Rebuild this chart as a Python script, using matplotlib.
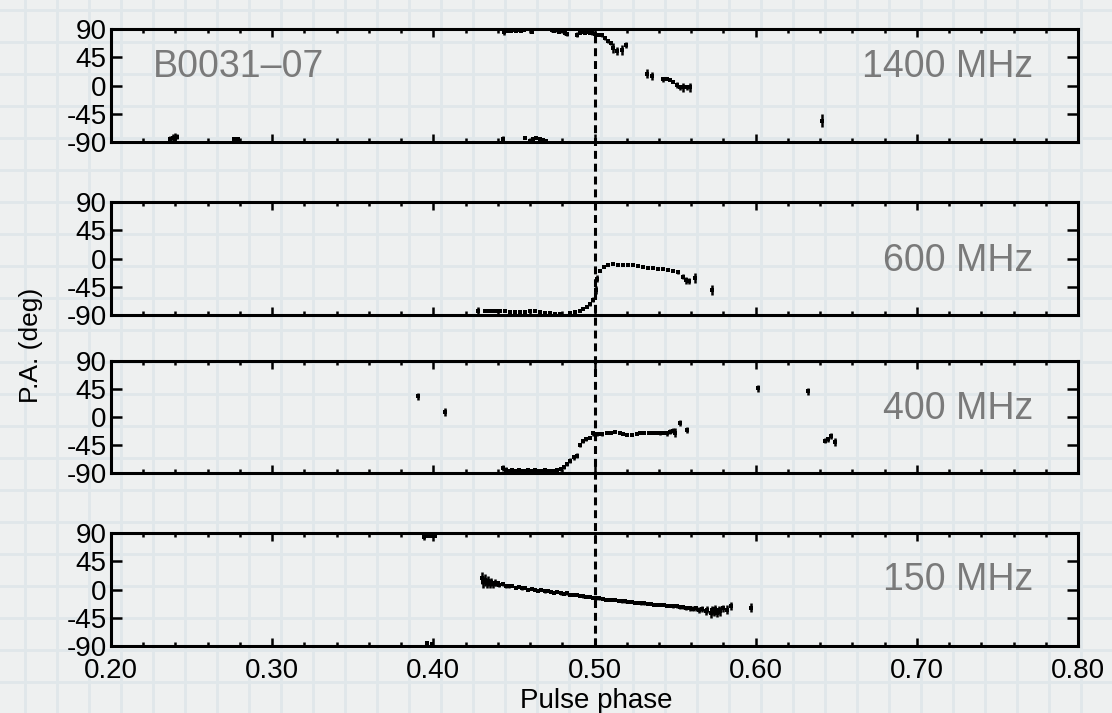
import numpy as np
import matplotlib
matplotlib.use("Agg")
import matplotlib.pyplot as plt

plt.rcParams['font.family'] = ['Liberation Sans', 'DejaVu Sans']
plt.rcParams['axes.unicode_minus'] = False

# ---------------- data ----------------
panel_labels = ["1400 MHz", "600 MHz", "400 MHz", "150 MHz"]
pulsar_name = "B0031\u201307"
xtick_vals = [0.20, 0.30, 0.40, 0.50, 0.60, 0.70, 0.80]
xtick_labels = ["0.20", "0.30", "0.40", "0.50", "0.60", "0.70", "0.80"]
ytick_vals = [-90, -45, 0, 45, 90]
ytick_labels = ["-90", "-45", "0", "45", "90"]
ref_phase = 0.50

# 1400 MHz
x1400 = [0.2366, 0.2383, 0.2397, 0.2411, 0.2765, 0.2790,
         0.4430, 0.4570, 0.4600, 0.4620, 0.4640, 0.4660, 0.4680, 0.4700,
         0.4438, 0.4455, 0.4470, 0.4485, 0.4500, 0.4515, 0.4530, 0.4545, 0.4560, 0.4610,
         0.4734, 0.4750, 0.4765, 0.4780, 0.4800, 0.4815, 0.4827,
         0.4890, 0.4910, 0.4925, 0.4940, 0.4955, 0.4970, 0.4985,
         0.5000, 0.5020, 0.5044, 0.5065, 0.5086, 0.5100, 0.5117, 0.5138, 0.5169, 0.5195,
         0.5324, 0.5354,
         0.5427, 0.5448, 0.5468, 0.5489, 0.5510, 0.5530, 0.5551, 0.5572, 0.5593,
         0.6410]
y1400 = [-85, -84, -83, -82, -86, -86,
         -85, -83, -88, -86, -84, -85, -87, -88,
         85, 87, 88, 87, 88, 87, 88, 87, 88, 86,
         88, 87, 88, 86, 87, 84, 82,
         81, 84, 85, 84, 85, 84, 83,
         82, 81, 80, 76, 71, 67, 60, 55, 56, 64,
         19, 15,
         10, 11, 9, 6, 1, -3, -3, -3, -3,
         -56]
e1400 = [4, 6, 7, 4, 4, 4,
         5, 1.5, 2, 2, 2, 2, 2, 1.5,
         4, 2, 1.5, 2, 1.5, 2, 1.5, 2, 1.5, 3,
         3, 2, 2, 3, 2, 3, 3,
         4, 2, 1.5, 2, 1.5, 2, 2,
         2, 2, 2, 3, 3, 3, 8, 7, 8, 5,
         7, 6,
         4, 2, 2, 2, 5, 4, 7, 4, 7,
         10]

# 600 MHz
x600 = [0.4280, 0.4321, 0.4335, 0.4352, 0.4372, 0.4393, 0.4414, 0.4444, 0.4476,
        0.4507, 0.4538, 0.4569, 0.4600, 0.4631, 0.4662, 0.4693, 0.4724, 0.4755,
        0.4786, 0.4848, 0.4879, 0.4910, 0.4931, 0.4952, 0.4972, 0.4993, 0.5010,
        0.5018, 0.5034, 0.5059, 0.5086, 0.5117, 0.5148, 0.5179, 0.5210, 0.5241,
        0.5272, 0.5303, 0.5334, 0.5365, 0.5396, 0.5427, 0.5458, 0.5489, 0.5520,
        0.5547, 0.5568, 0.5588, 0.5624, 0.5727]
y600 = [-84, -84, -84, -83, -83, -84, -83, -84, -85,
        -85, -86, -85, -84, -84, -86, -87, -87, -88,
        -88, -87, -86, -83, -80, -77, -73, -66, -50,
        -32, -20, -14, -10, -9, -11, -11, -11, -11,
        -12, -14, -15, -15, -16, -17, -18, -20, -22,
        -29, -35, -36, -31, -50]
e600 = [6, 2, 2, 2, 2, 2, 2, 1.5, 1.5,
        1.5, 1.5, 1.5, 1.5, 1.5, 1.5, 1.5, 1.5, 1.5,
        1.5, 1.5, 1.5, 1.5, 1.5, 1.5, 2, 4, 6,
        6, 2, 1.5, 1.5, 1.5, 1.5, 1.5, 1.5, 1.5,
        1.5, 1.5, 1.5, 1.5, 1.5, 1.5, 1.5, 2, 2,
        4, 6, 5, 8, 8]

# 400 MHz
x400 = [0.3905, 0.4070,
        0.4430, 0.4450, 0.4470, 0.4490, 0.4510, 0.4530, 0.4550, 0.4570, 0.4590,
        0.4610, 0.4630, 0.4650, 0.4670, 0.4690, 0.4710, 0.4730, 0.4750, 0.4770,
        0.4790, 0.4810, 0.4830, 0.4850, 0.4870, 0.4889, 0.4910, 0.4930, 0.4950,
        0.4970, 0.4993, 0.5013, 0.5030, 0.5044, 0.5076, 0.5100, 0.5130, 0.5158,
        0.5179, 0.5200, 0.5230, 0.5262, 0.5282, 0.5310, 0.5340, 0.5365, 0.5386,
        0.5406, 0.5430, 0.5450, 0.5470, 0.5489, 0.5500, 0.5530, 0.5576,
        0.6015, 0.6325, 0.6430, 0.6450, 0.6470, 0.6490]
y400 = [33, 8,
        -82, -85, -86, -85, -86, -85, -86, -86, -85,
        -86, -85, -86, -86, -85, -87, -86, -86, -85,
        -84, -80, -76, -70, -65, -62, -45, -38, -36,
        -33, -26, -27, -27, -28, -25, -25, -24, -25,
        -27, -29, -29, -28, -25, -25, -26, -25, -25,
        -26, -25, -26, -24, -22, -25, -10, -21,
        46, 41, -38, -36, -30, -40]
e400 = [6, 7,
        5, 4, 3, 2, 2, 2, 2, 2, 2,
        2, 2, 2, 2, 2, 2, 2, 2, 2,
        3, 3, 3, 4, 4, 4, 4, 3, 3,
        3, 4, 3, 2, 2, 1.5, 1.5, 1.5, 1.5,
        1.5, 1.5, 1.5, 1.5, 1.5, 1.5, 1.5, 1.5, 2,
        3, 3, 4, 4, 4, 7, 5, 5,
        6, 6, 4, 4, 5, 6]

# 150 MHz
x150 = [0.3940, 0.3970, 0.3990, 0.4010, 0.3960, 0.3990,
        0.4300, 0.4310, 0.4320, 0.4330, 0.4340, 0.4350, 0.4360, 0.4370, 0.4380,
        0.4390, 0.4400, 0.4410, 0.4430, 0.4450, 0.4470, 0.4490, 0.4510, 0.4530,
        0.4550, 0.4570, 0.4590, 0.4610, 0.4630, 0.4650, 0.4670, 0.4690, 0.4710,
        0.4730, 0.4750, 0.4770, 0.4790, 0.4810, 0.4830, 0.4850, 0.4870, 0.4890,
        0.4910, 0.4930, 0.4950, 0.4970, 0.4990, 0.5010, 0.5030, 0.5050, 0.5070,
        0.5090, 0.5110, 0.5130, 0.5150, 0.5170, 0.5190, 0.5210, 0.5230, 0.5250,
        0.5270, 0.5290, 0.5310, 0.5330, 0.5350, 0.5370, 0.5390, 0.5410, 0.5430,
        0.5450, 0.5470, 0.5490, 0.5510, 0.5530, 0.5550, 0.5570, 0.5590, 0.5610,
        0.5630, 0.5650, 0.5670, 0.5690, 0.5700, 0.5720, 0.5730, 0.5740, 0.5750,
        0.5760, 0.5770, 0.5780, 0.5800, 0.5820, 0.5850, 0.5970]
y150 = [84, 86, 86, 86, -86, -87,
        18, 12, 15, 10, 14, 9, 12, 8, 11,
        9, 10, 7, 8, 6, 5, 6, 3, 4,
        2, 3, 0, 1, 0, -2, -1, -3, -2,
        -4, -5, -4, -6, -7, -6, -8, -9, -9,
        -10, -11, -12, -12, -13, -14, -14, -15, -16,
        -16, -17, -17, -18, -19, -19, -20, -20, -21,
        -21, -22, -22, -23, -23, -24, -24, -25, -25,
        -26, -26, -27, -27, -28, -28, -29, -30, -31,
        -30, -33, -31, -35, -32, -38, -33, -36, -31,
        -37, -33, -35, -30, -32, -26, -29]
e150 = [5, 3, 3, 3, 3, 2,
        10, 9, 9, 8, 8, 7, 6, 6, 5,
        4, 4, 3, 3, 3, 2, 2, 2, 2,
        2, 2, 2, 2, 2, 2, 2, 2, 2,
        2, 2, 2, 2, 2, 2, 2, 2, 2,
        2, 2, 2, 2, 2, 2, 2, 2, 2,
        2, 2, 2, 2, 2, 2, 2, 2, 2,
        2, 2, 2, 2, 2, 2, 2, 2, 2,
        2, 2, 2, 2, 3, 3, 3, 4, 4,
        4, 5, 5, 6, 5, 8, 7, 6, 6,
        7, 6, 7, 6, 7, 6, 7]

series = [(x1400, y1400, e1400), (x600, y600, e600),
          (x400, y400, e400), (x150, y150, e150)]

# ---------------- layout ----------------
W, H = 1112, 713
fig = plt.figure(figsize=(W / 100, H / 100), dpi=100)
bg = '#eef0f0'
fig.patch.set_facecolor(bg)

# graph-paper background
bax = fig.add_axes([0, 0, 1, 1], zorder=-10)
bax.set_xlim(0, W)
bax.set_ylim(H, 0)
bax.axis('off')
for gx in np.arange(25, W, 32.0):
    bax.axvline(gx, color='#e0e7ea', lw=2.0)
for gy in np.arange(10, H, 32.0):
    bax.axhline(gy, color='#e0e7ea', lw=2.0)

left_px, right_px = 111, 1078
panels_px = [(29, 142), (202, 315), (361, 473), (533, 646)]
label_y = [0.575, 0.385, 0.478, 0.50]

axes = []
for i, ((top, bot), (xs, ys, es)) in enumerate(zip(panels_px, series)):
    ax = fig.add_axes([left_px / W, 1 - bot / H, (right_px - left_px) / W, (bot - top) / H])
    ax.set_facecolor('none')
    ax.set_xlim(0.2, 0.8)
    ax.set_ylim(-90, 90)
    ax.errorbar(xs, ys, yerr=es, fmt='s', ms=2.4, color='k', ecolor='k',
                elinewidth=1.8, capsize=0, mew=0, clip_on=True)
    for s in ax.spines.values():
        s.set_linewidth(2.2)
    ax.set_xticks(xtick_vals)
    ax.set_xticks(np.arange(0.2, 0.8001, 0.02), minor=True)
    ax.set_yticks(ytick_vals)
    ax.set_yticklabels(ytick_labels)
    ax.tick_params(axis='both', which='both', direction='in', top=True, right=True,
                   color='k')
    ax.tick_params(axis='x', which='major', length=6, width=1.8)
    ax.tick_params(axis='x', which='minor', length=3, width=1.8)
    ax.tick_params(axis='y', which='major', length=8, width=1.8, labelsize=20, pad=3)
    ax.tick_params(axis='y', which='minor', left=False, right=False)
    if i == 3:
        ax.set_xticklabels(xtick_labels)
        ax.tick_params(axis='x', which='major', labelsize=20, pad=9)
    else:
        ax.tick_params(axis='x', labelbottom=False)
    ax.text(0.9535, label_y[i], panel_labels[i], transform=ax.transAxes,
            ha='right', va='baseline', fontsize=27, color='#7a7a7a')
    if i == 0:
        ax.text(0.0434, label_y[i], pulsar_name, transform=ax.transAxes,
                ha='left', va='baseline', fontsize=27, color='#7a7a7a')
    axes.append(ax)

# dashed reference line spanning all panels
oax = fig.add_axes([left_px / W, 1 - 646 / H, (right_px - left_px) / W, (646 - 29) / H])
oax.set_xlim(0.2, 0.8)
oax.set_ylim(0, 1)
oax.axis('off')
oax.axvline(ref_phase, color='k', lw=2.2, ls=(0, (2.6, 1.6)))

fig.text(31 / W, 1 - 345 / H, "P.A. (deg)", rotation=90, ha='center', va='center',
         fontsize=19)
fig.text(596 / W, 1 - 708 / H, "Pulse phase", ha='center', va='baseline', fontsize=20)

fig.savefig("out.png", dpi=100, facecolor=fig.get_facecolor())
